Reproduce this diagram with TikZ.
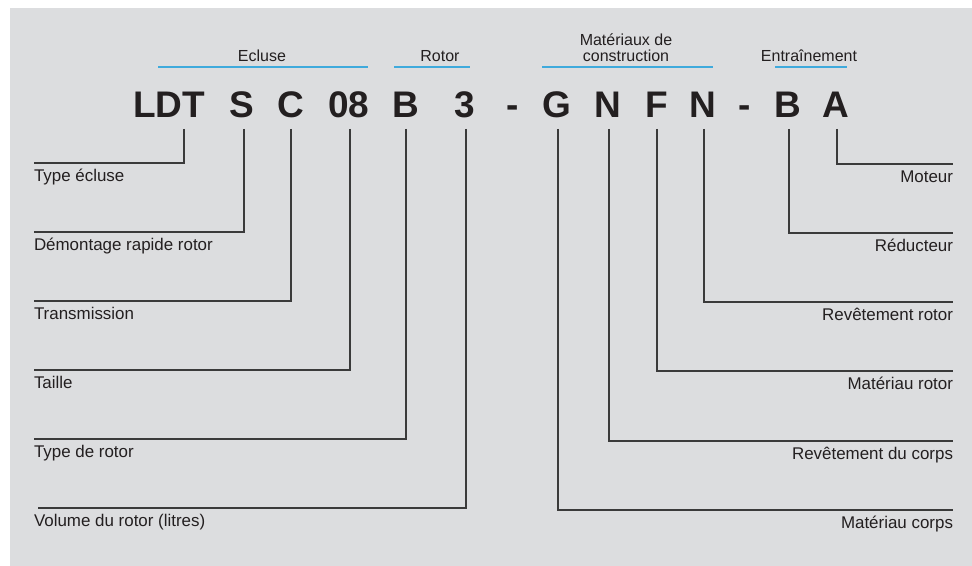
\documentclass[tikz,border=0pt]{standalone}
\usepackage{fontspec}
\setmainfont{Liberation Sans}
\definecolor{bg}{HTML}{DCDDDF}
\definecolor{txt}{HTML}{231F20}
\definecolor{linec}{HTML}{3A3A3A}
\definecolor{blu}{HTML}{3FAADC}
\begin{document}
\begin{tikzpicture}[x=0.75pt,y=-0.75pt,
  every node/.style={inner sep=0pt, outer sep=0pt, text=txt},
  code/.style={font=\fontsize{27.75pt}{30pt}\selectfont\bfseries, anchor=base, text depth=8.25pt},
  grp/.style={font=\fontsize{12pt}{12pt}\selectfont, anchor=base, align=center},
  lab/.style={font=\fontsize{12.7pt}{14pt}\selectfont, text height=14.25pt},
  llab/.style={lab, anchor=base west},
  rlab/.style={lab, anchor=base east},
  lead/.style={draw=linec, line width=0.8pt},
  bar/.style={draw=blu, line width=1.1pt}]
\useasboundingbox (0,0) rectangle (972,566);
\fill[bg] (10,8) rectangle (972,566);

% group labels
\node[grp] (gEcl) at (262,62) {Ecluse};
\node[grp] (gRot) at (440,62) {Rotor};
\node[grp, anchor=south] (gMat) at (626,61.5) {Matériaux de\\construction};
\node[grp] (gEnt) at (809,62) {Entraînement};
\draw[bar] (158,67) -- (368,67);
\draw[bar] (394,67) -- (470,67);
\draw[bar] (542,67) -- (713,67);
\draw[bar] (775,67) -- (847,67);

% code letters
\node[code] (cLDT) at (169,118) {LDT};
\node[code] (cS) at (242,118) {S};
\node[code] (cC) at (291,118) {C};
\node[code] (c08) at (349,118) {08};
\node[code] (cB) at (406,118) {B};
\node[code] (c3) at (465,118) {3};
\node[code] (d1) at (513,118) {-};
\node[code] (cG) at (557,118) {G};
\node[code] (cN1) at (608,118) {N};
\node[code] (cF) at (657,118) {F};
\node[code] (cN2) at (703,118) {N};
\node[code] (d2) at (745,118) {-};
\node[code] (cB2) at (788,118) {B};
\node[code] (cA) at (836,118) {A};
\coordinate (kLDT) at (184,129);

% left labels
\node[llab] (lType) at (34,182) {Type écluse};
\node[llab] (lDem) at (34,251) {Démontage rapide rotor};
\node[llab] (lTra) at (34,320) {Transmission};
\node[llab] (lTai) at (34,389) {Taille};
\node[llab] (lTyr) at (34,458) {Type de rotor};
\node[llab] (lVol) at (34,527) {Volume du rotor (litres)};

% right labels
\node[rlab] (rMot) at (953,183) {Moteur};
\node[rlab] (rRed) at (953,252) {Réducteur};
\node[rlab] (rRvr) at (953,321) {Revêtement rotor};
\node[rlab] (rMar) at (953,390) {Matériau rotor};
\node[rlab] (rRvc) at (953,460) {Revêtement du corps};
\node[rlab] (rMac) at (953,529) {Matériau corps};

% leaders
\draw[lead] (kLDT) |- (lType.north west);
\draw[lead] ([xshift=1.5pt]cS.south) |- (lDem.north west);
\draw[lead] (cC.south) |- (lTra.north west);
\draw[lead] ([xshift=0.75pt]c08.south) |- (lTai.north west);
\draw[lead] (cB.south) |- (lTyr.north west);
\draw[lead] ([xshift=0.75pt]c3.south) |- ([xshift=3pt]lVol.north west);
\draw[lead] ([xshift=0.75pt]cA.south) |- (rMot.north east);
\draw[lead] ([xshift=0.75pt]cB2.south) |- (rRed.north east);
\draw[lead] ([xshift=0.75pt]cN2.south) |- (rRvr.north east);
\draw[lead] (cF.south) |- (rMar.north east);
\draw[lead] ([xshift=0.75pt]cN1.south) |- (rRvc.north east);
\draw[lead] ([xshift=0.75pt]cG.south) |- (rMac.north east);
\end{tikzpicture}
\end{document}
